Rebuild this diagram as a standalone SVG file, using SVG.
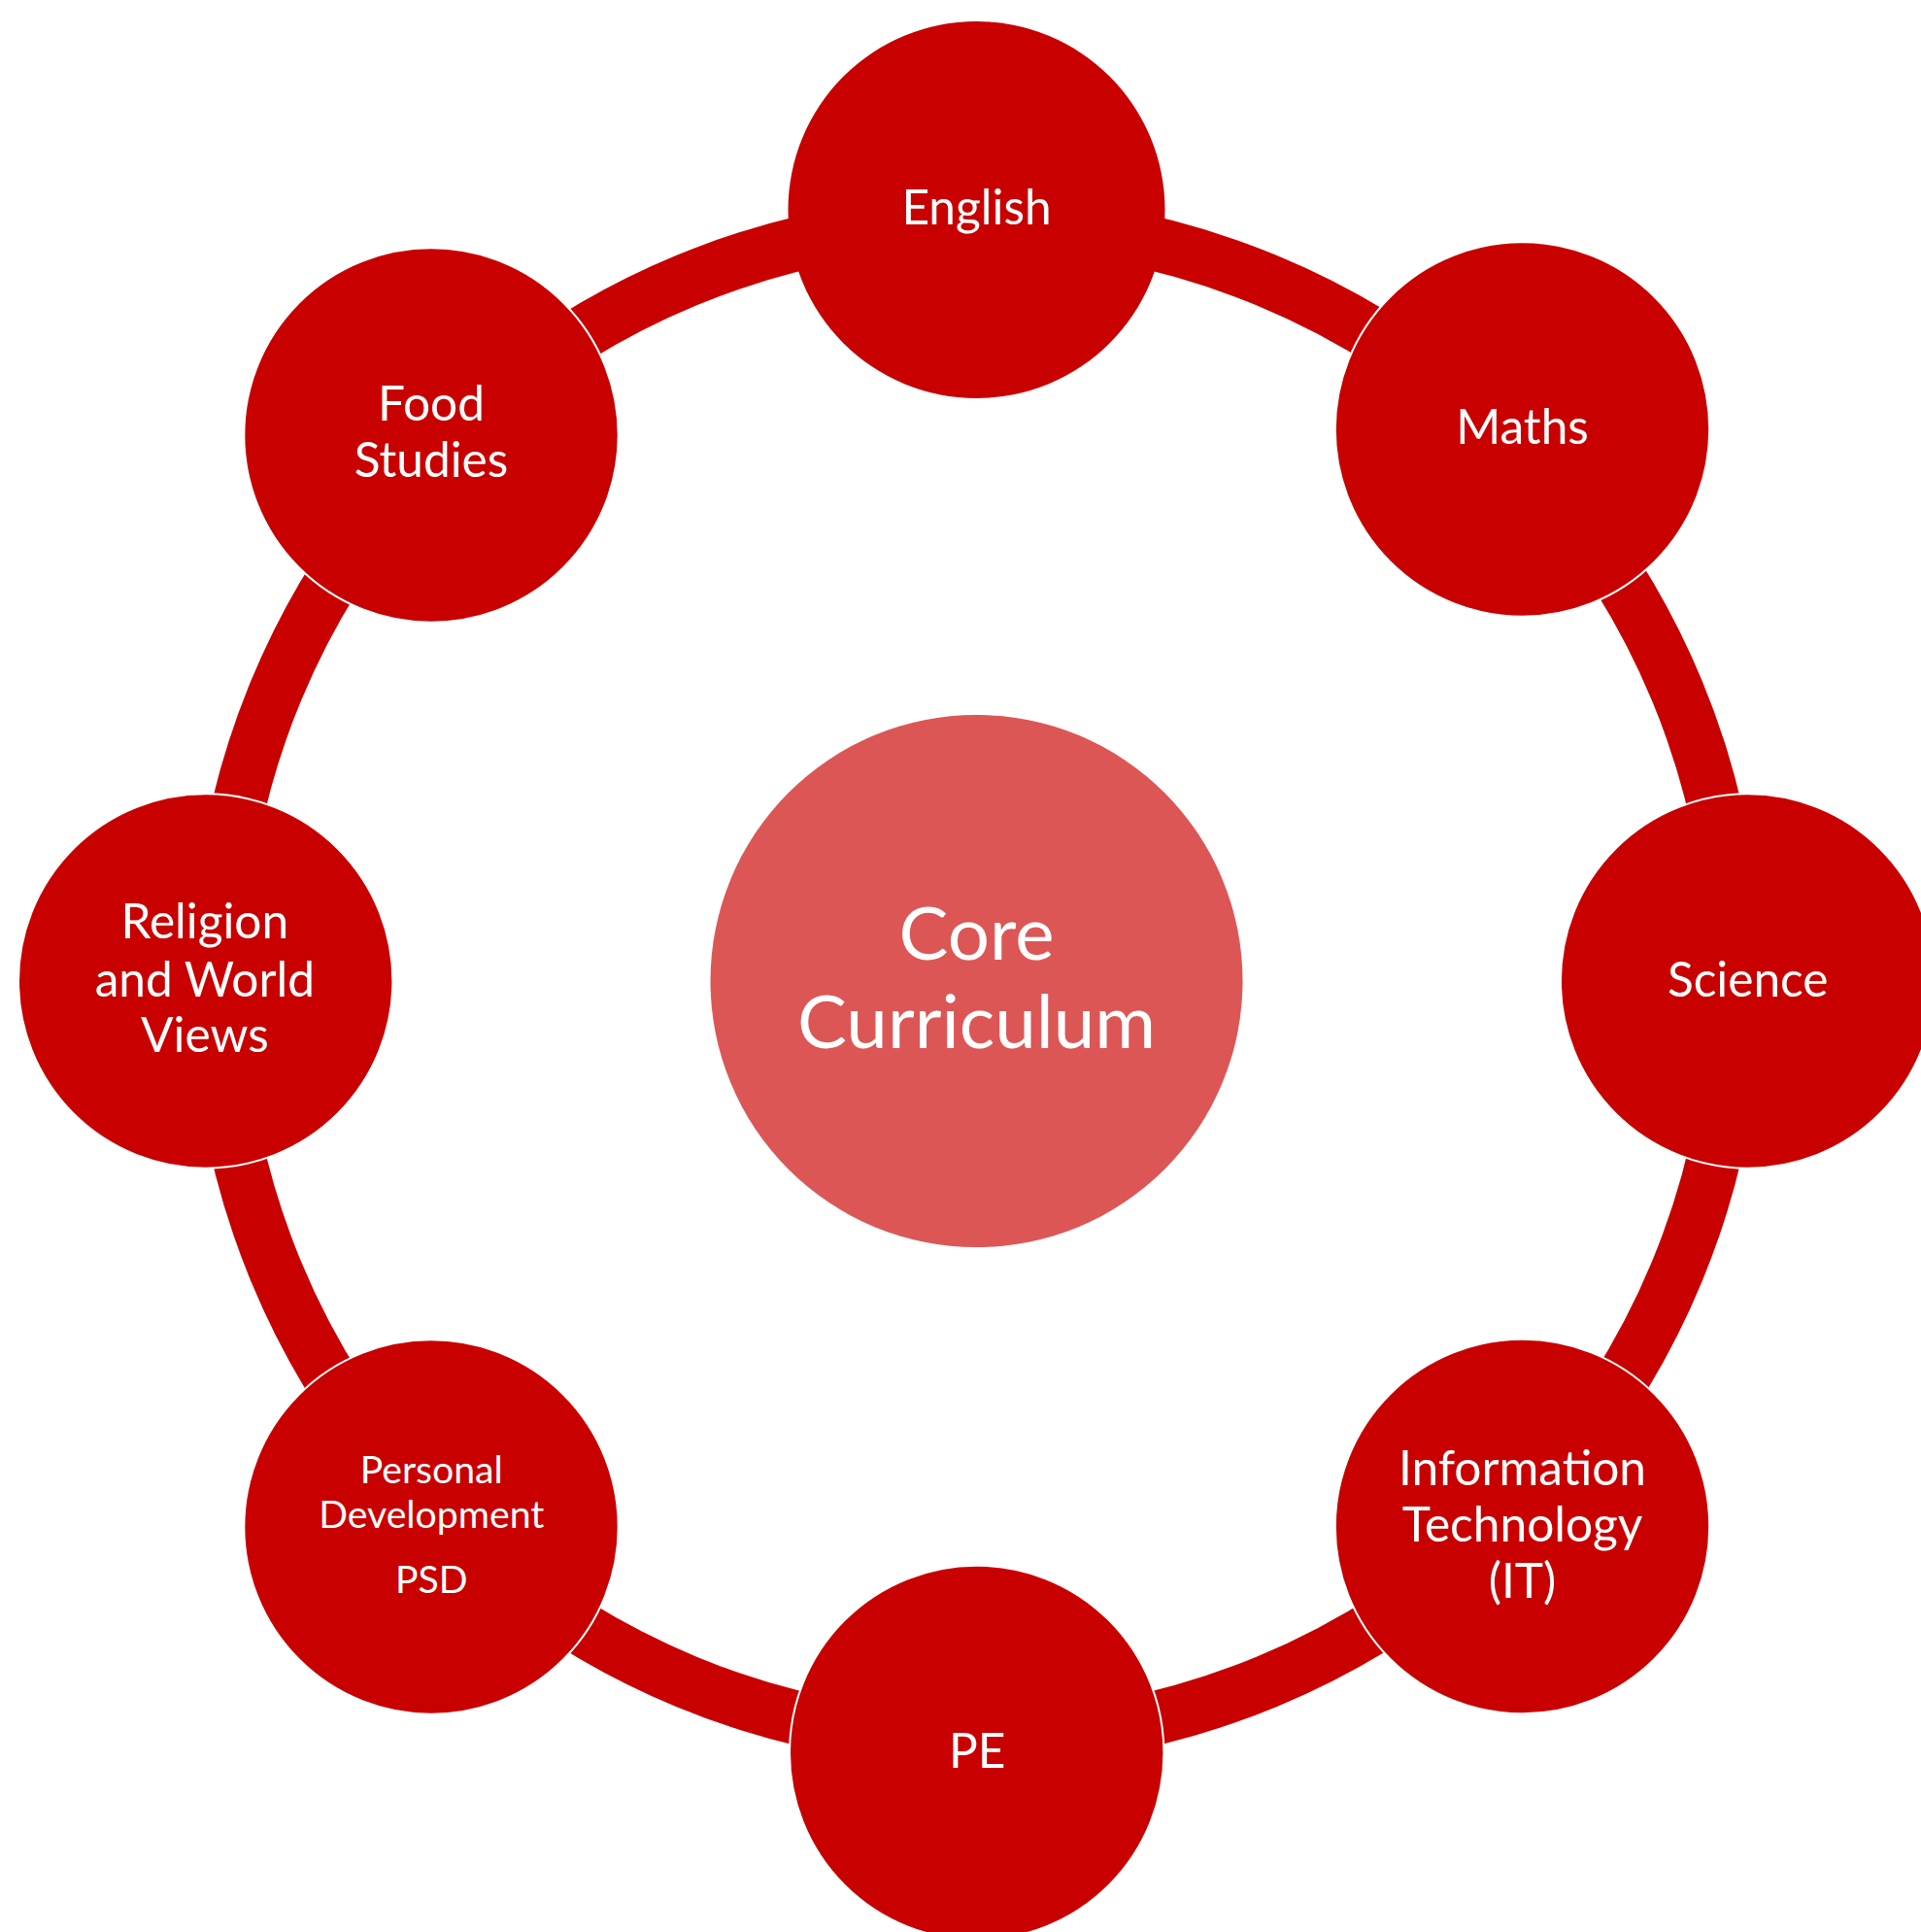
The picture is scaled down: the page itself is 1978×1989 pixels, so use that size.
<svg xmlns="http://www.w3.org/2000/svg" width="1978" height="1989" viewBox="0 0 1978 1989">
<style>
.bg{fill:#FFFFFF}
.arc{fill:none;stroke:#C80000;stroke-width:55.5}
.node{fill:#C80000;stroke:#FFFFFF;stroke-width:2}
.top{fill:#C80000}
.hub{fill:#DC5656}
.t{font-family:Lato,"Liberation Sans",sans-serif;fill:#FFFFFF;text-anchor:middle;font-size:49.6px}
.s{font-size:39.2px}
.c{font-size:76.3px}
</style>
<rect class="bg" x="0" y="0" width="1978" height="1989"/>
<g id="connectors">
<path class="arc" d="M 1005.5 229.25 A 780.75 780.75 0 0 1 1557.57 457.93"/>
<path class="arc" d="M 1557.57 457.93 A 780.75 780.75 0 0 1 1786.25 1010"/>
<path class="arc" d="M 1786.25 1010 A 780.75 780.75 0 0 1 1557.57 1562.07"/>
<path class="arc" d="M 1557.57 1562.07 A 780.75 780.75 0 0 1 1005.5 1790.75"/>
<path class="arc" d="M 1005.5 1790.75 A 780.75 780.75 0 0 1 453.43 1562.07"/>
<path class="arc" d="M 453.43 1562.07 A 780.75 780.75 0 0 1 224.75 1010"/>
<path class="arc" d="M 224.75 1010 A 780.75 780.75 0 0 1 453.43 457.93"/>
<path class="arc" d="M 453.43 457.93 A 780.75 780.75 0 0 1 1005.5 229.25"/>
</g>
<g id="node-core">
<circle class="hub" cx="1005.5" cy="1010" r="274"/>
<text class="t c" x="1005.5" y="987.5">Core</text>
<text class="t c" x="1005.5" y="1078.5">Curriculum</text>
</g>
<g id="node-english">
<circle class="top" cx="1005.5" cy="216" r="194"/>
<text class="t" x="1005.5" y="231">English</text>
</g>
<g id="node-maths">
<circle class="node" cx="1567.5" cy="442" r="192.7"/>
<text class="t" x="1567.5" y="457.3">Maths</text>
</g>
<g id="node-science">
<circle class="node" cx="1799.6" cy="1010" r="192.7"/>
<text class="t" x="1799.7" y="1025.7">Science</text>
</g>
<g id="node-it">
<circle class="node" cx="1567.5" cy="1571.5" r="192.7"/>
<text class="t" x="1567.5" y="1529.3">Information</text>
<text class="t" x="1567.5" y="1587">Technology</text>
<text class="t" x="1567.5" y="1645">(IT)</text>
</g>
<g id="node-pe">
<circle class="node" cx="1005.7" cy="1804.4" r="192.7"/>
<text class="t" x="1006.3" y="1820">PE</text>
</g>
<g id="node-psd">
<circle class="node" cx="444" cy="1572" r="192.7"/>
<text class="t s" x="444.3" y="1526.7">Personal</text>
<text class="t s" x="444.3" y="1573.3">Development</text>
<text class="t s" x="444.3" y="1640">PSD</text>
</g>
<g id="node-religion">
<circle class="node" cx="211.7" cy="1010" r="192.7"/>
<text class="t" x="210.8" y="965.7">Religion</text>
<text class="t" x="210.8" y="1025.7">and World</text>
<text class="t" x="210.8" y="1083.3">Views</text>
</g>
<g id="node-food">
<circle class="node" cx="444" cy="448" r="192.7"/>
<text class="t" x="444" y="433.3">Food</text>
<text class="t" x="444" y="491">Studies</text>
</g>
</svg>
